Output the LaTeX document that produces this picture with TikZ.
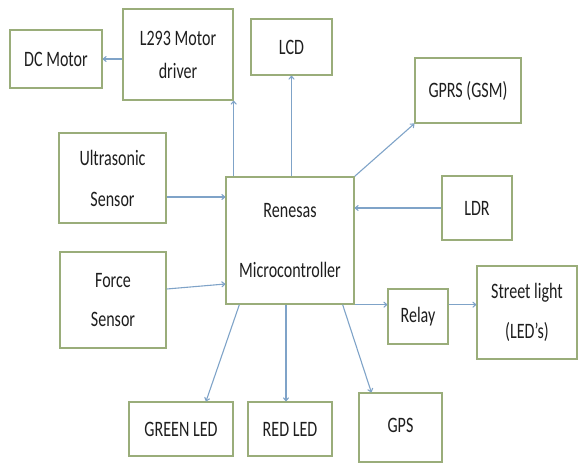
\documentclass[tikz,border=0pt]{standalone}
\usepackage{fontspec}
\setmainfont{Carlito}[FakeStretch=0.73]
\usepackage{xcolor}
\usepackage{tikz}
\usetikzlibrary{arrows.meta,calc}
\definecolor{boxline}{HTML}{9AAD7A}
\definecolor{wire}{HTML}{7FA3C8}
\definecolor{ink}{HTML}{1E1E1E}

\begin{document}
\begin{tikzpicture}[x=1pt, y=-1pt,
    module/.style={rectangle, draw=boxline, line width=1.3pt, fill=white, align=center, inner sep=0pt, text=ink, font=\fontsize{22}{24}\selectfont},
    arrow/.style={-{To[length=4pt,width=6pt]}, line width=1.1pt, color=wire}
]
    \useasboundingbox (0,0) rectangle (579,464);

    % Controller
    \node[module, minimum width=128pt, minimum height=127pt] (mcu) at (290,240.5) {Renesas\\[36pt]Microcontroller};

    % Top row
    \node[module, minimum width=92pt, minimum height=58pt] (dcm) at (56,59) {DC Motor};
    \node[module, minimum width=110pt, minimum height=91pt] (drv) at (178,54.5) {L293 Motor\\[9pt]driver};
    \node[module, minimum width=81pt, minimum height=56pt] (lcd) at (291.5,47) {LCD};
    \node[module, minimum width=106pt, minimum height=65pt] (gprs) at (468,90.5) {GPRS (GSM)};

    % Inputs
    \node[module, minimum width=107pt, minimum height=90pt] (ultra) at (112.5,178) {Ultrasonic\\[17pt]Sensor};
    \node[module, minimum width=106pt, minimum height=96pt] (force) at (113,300) {Force\\[15pt]Sensor};
    \node[module, minimum width=70pt, minimum height=64pt] (ldr) at (477,208) {LDR};

    % Outputs
    \node[module, minimum width=60pt, minimum height=55pt] (relay) at (418,316.5) {Relay};
    \node[module, minimum width=100pt, minimum height=93pt] (street) at (527,312.5) {Street light\\[16pt](LED’s)};
    \node[module, minimum width=104pt, minimum height=54pt] (green) at (181,429) {GREEN LED};
    \node[module, minimum width=84pt, minimum height=54pt] (red) at (290,429) {RED LED};
    \node[module, minimum width=83pt, minimum height=69pt] (gps) at (400.5,427.5) {\raisebox{5pt}{GPS}};

    \coordinate (usin) at ([yshift=-19pt]ultra.east);
    \coordinate (fout) at ([yshift=11pt]force.east);

    \draw[arrow] (drv.west |- dcm.east) -- (dcm.east);
    \draw[arrow] (mcu.north -| drv.south east) -- (drv.south east);
    \draw[arrow] (mcu.north -| lcd.south) -- (lcd.south);
    \draw[arrow] (mcu.north east) -- (gprs.south west);
    \draw[arrow] (ldr.west) -- (ldr.west -| mcu.east);
    \draw[arrow] (usin) -- (usin -| mcu.west);
    \draw[arrow] (fout) -- ($(fout -| mcu.west)+(0,-5)$);
    \draw[arrow] (mcu.south east) -- (mcu.south east -| relay.west);
    \draw[arrow] (mcu.south east -| relay.east) -- (mcu.south east -| street.west);
    \draw[arrow] ($(mcu.south west)+(14,0)$) -- ($(green.north)+(25,0)$);
    \draw[arrow] ($(mcu.south)+(-4,0)$) -- ($(red.north)+(-4,0)$);
    \draw[arrow] ($(mcu.south east)+(-12,0)$) -- ($(gps.north west)+(13,0)$);
\end{tikzpicture}
\end{document}
